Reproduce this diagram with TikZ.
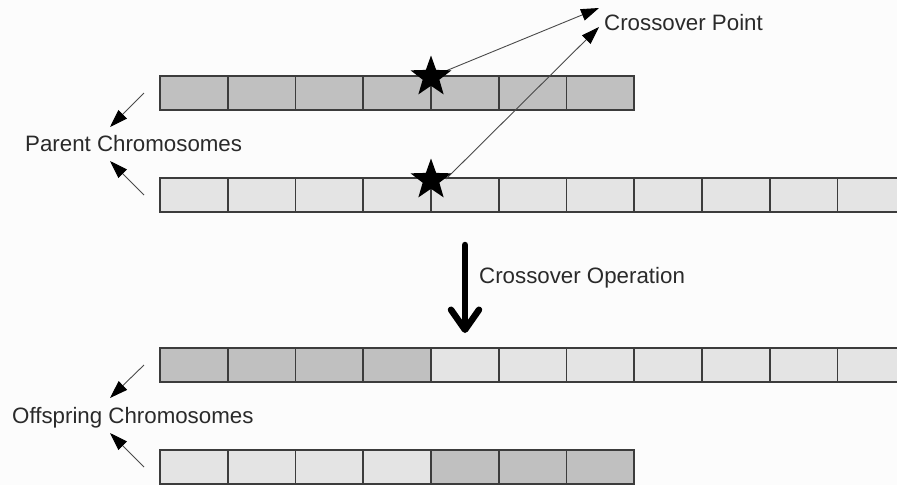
\documentclass[tikz,border=0pt]{standalone}
\usepackage{fontspec}
\setmainfont{Liberation Sans}
\usetikzlibrary{arrows.meta,shapes.geometric}
\definecolor{darkcell}{HTML}{C0C0C0}
\definecolor{lightcell}{HTML}{E4E4E4}
\definecolor{cellline}{HTML}{3C3C3C}
\definecolor{pointer}{HTML}{4A4A4A}
\definecolor{labelink}{HTML}{2A2A2A}
\begin{document}
\begin{tikzpicture}[x=1pt,y=-1pt,
  gene/.style={draw=cellline, line width=1.6pt, minimum width=67.75pt,
    minimum height=34pt, inner sep=0pt, outer sep=0pt, anchor=north west},
  darkgene/.style={gene, fill=darkcell},
  lightgene/.style={gene, fill=lightcell},
  cutmark/.style={star, star points=5, star point ratio=2.45, fill=black,
    minimum size=43pt, inner sep=0pt},
  caption/.style={anchor=base west, inner sep=0pt, text=labelink,
    font=\fontsize{22.3}{26}\selectfont},
  pointerline/.style={draw=pointer, line width=0.9pt,
    -{Triangle[length=18pt,width=12pt,fill=black,color=black]}},
  bigarrow/.style={line width=6.5pt, line cap=round,
    -{Straight Barb[length=20pt,width=28pt,round]}}]

% canvas
\clip (0,0) rectangle (897,485);
\fill[white!99!black] (0,0) rectangle (897,485);

% parent chromosomes
\foreach \i in {0,...,6}
  \node[darkgene] (pa\i) at ({160+67.75*\i},76) {};
\foreach \i in {0,...,10}
  \node[lightgene] (pb\i) at ({160+67.75*\i},178) {};

% offspring chromosomes
\foreach \i in {0,...,3}
  \node[darkgene] (oa\i) at ({160+67.75*\i},348) {};
\foreach \i in {4,...,10}
  \node[lightgene] (oa\i) at ({160+67.75*\i},348) {};
\foreach \i in {0,...,3}
  \node[lightgene] (ob\i) at ({160+67.75*\i},450) {};
\foreach \i in {4,...,6}
  \node[darkgene] (ob\i) at ({160+67.75*\i},450) {};

% crossover points
\coordinate (starA) at (431,77);
\coordinate (starB) at (431,180);
\coordinate (armB) at (446,179);
\node[caption] (cpoint) at (604,30) {Crossover Point};
\coordinate (tipA) at (599,8);
\coordinate (tipB) at (599,27);
\draw[pointerline] (starA) -- (tipA);
\draw[pointerline] (armB) -- (tipB);
\node[cutmark] (sA) at (starA) {};
\node[cutmark] (sB) at (starB) {};

% side labels
\node[caption] (parents) at (25,151) {Parent Chromosomes};
\coordinate (pU0) at (144,93);  \coordinate (pU1) at (110,127);
\coordinate (pL0) at (144,195); \coordinate (pL1) at (110,161);
\draw[pointerline] (pU0) -- (pU1);
\draw[pointerline] (pL0) -- (pL1);

\node[caption] (offspring) at (12,423) {Offspring Chromosomes};
\coordinate (oU0) at (144,365); \coordinate (oU1) at (110,398);
\coordinate (oL0) at (144,467); \coordinate (oL1) at (110,433);
\draw[pointerline] (oU0) -- (oU1);
\draw[pointerline] (oL0) -- (oL1);

% crossover operation
\coordinate (opTop) at (465,245);
\coordinate (opTip) at (465,333);
\draw[bigarrow] (opTop) -- (opTip);
\node[caption] (operation) at (479,283) {Crossover Operation};
\end{tikzpicture}
\end{document}
